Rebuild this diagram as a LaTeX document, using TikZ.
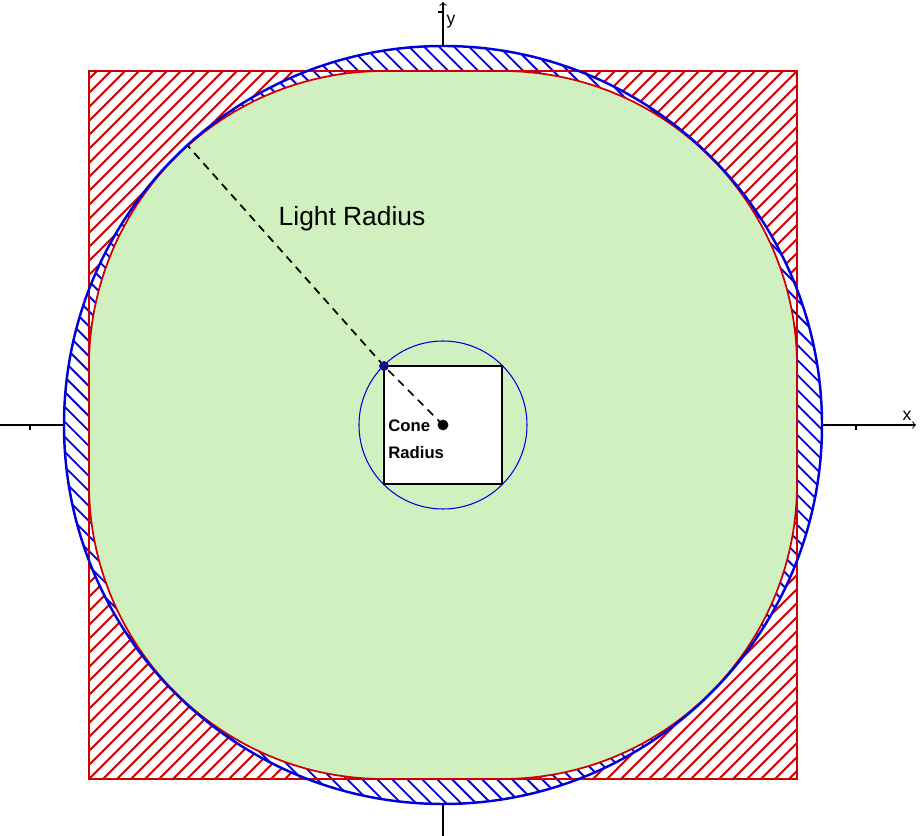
\documentclass[tikz,border=0pt]{standalone}
\usepackage{fontspec}
\setmainfont{Liberation Sans}
\usetikzlibrary{positioning}

\definecolor{squarered}{RGB}{204,0,0}
\definecolor{circleblue}{RGB}{0,0,220}
\definecolor{lightgreen}{RGB}{208,240,192}
\definecolor{dotblue}{RGB}{20,20,120}

\tikzset{
    axis/.style={draw, line width=0.6pt},
    redhatch/.style={draw=squarered, line width=1.05pt},
    bluehatch/.style={draw=circleblue, line width=1.05pt},
}

\begin{document}
\begin{tikzpicture}[scale=0.02]

        \useasboundingbox (-443,-411) rectangle (478,425);

        \coordinate (O) at (0,0);
        \coordinate (corner) at (-59,59);
        \coordinate (rim) at (-255,279);
        \coordinate (xmin) at (-443,0);
        \coordinate (xmax) at (473,0);
        \coordinate (ymin) at (0,-411);
        \coordinate (ymax) at (0,423);

        % axes
        \path[axis, ->] (xmin) -- (xmax);
        \path[axis, ->] (ymin) -- (ymax);
        \foreach \t in {-413,413} {
            \path[axis] (\t,0) -- ++(0,-5);
            \path[axis] (0,\t) -- ++(-5,0);
        }
        \node[anchor=base, inner sep=0] (xlabel) at (464,4) {\fontsize{10}{12}\selectfont x};
        \node[anchor=base, inner sep=0] (ylabel) at (8,400) {\fontsize{10}{12}\selectfont y};

        % red square, hatched
        \path[fill=white] (-354,-354) rectangle (354,354);
        \begin{scope}
            \clip (-354,-354) rectangle (354,354);
            \foreach \c in {-524.7,-514.8,...,530}
                \path[redhatch, rotate=45] (-520,\c) -- (520,\c);
        \end{scope}

        % blue circle, hatched
        \path[fill=white] (O) circle (379);
        \begin{scope}
            \clip (O) circle (379);
            \foreach \c in {-530.3,-519.7,...,531}
                \path[bluehatch, rotate=-45] (-520,\c) -- (520,\c);
        \end{scope}

        % lit area
        \path[draw=squarered, line width=1pt, fill=lightgreen] (-354,-59) -- (-354,59) arc (180:90:295) -- (59,354) arc (90:0:295) -- (354,-59) arc (0:-90:295) -- (-59,-354) arc (-90:-180:295) -- cycle;

        \path[draw=squarered, line width=1.1pt] (-354,-354) rectangle (354,354);
        \path[draw=circleblue, line width=1.4pt] (O) circle (379);

        % cone
        \path[draw=circleblue, line width=0.6pt] (O) circle (84);
        \path[draw, fill=white, line width=1.4pt] (-59,-59) rectangle (59,59);

        \path[draw, line width=1pt, dash pattern=on 4.5pt off 3.4pt] (O) -- (corner) -- (rim);

        \path[draw=circleblue, fill=dotblue] (corner) circle (4.5);
        \path[draw, fill] (O) circle (5);

        \node[anchor=base, inner sep=0] (light) at (-91,199) {\fontsize{15}{18}\selectfont Light Radius};
        \node[anchor=base west, inner sep=0] (cone) at (-55,-7) {\fontsize{9.5}{11}\selectfont\bfseries Cone};
        \node[anchor=base west, inner sep=0] (radius) at (-55,-34) {\fontsize{9.5}{11}\selectfont\bfseries Radius};

\end{tikzpicture}
\end{document}
